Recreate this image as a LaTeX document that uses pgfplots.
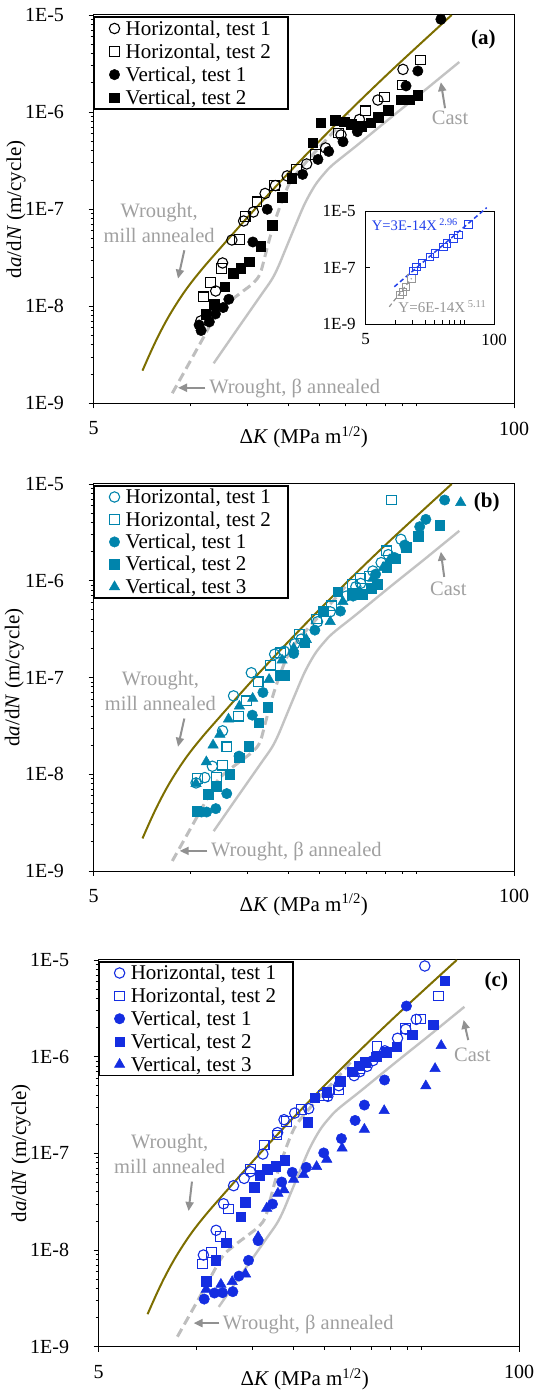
\documentclass[border=0pt]{standalone}
\usepackage{fontspec}
\setmainfont{Liberation Serif}
\usepackage{pgfplots}
\usepackage{pgfplotstable}
\pgfplotsset{compat=1.18}
\usetikzlibrary{arrows.meta}

\definecolor{olivec}{RGB}{125,110,0}
\definecolor{castc}{RGB}{195,195,195}
\definecolor{betac}{RGB}{190,190,190}
\definecolor{txtc}{RGB}{160,160,160}
\definecolor{arrc}{RGB}{145,145,145}
\definecolor{tealc}{RGB}{0,132,172}
\definecolor{bluec}{RGB}{20,45,225}
\definecolor{iblue}{RGB}{35,65,235}
\definecolor{igray}{RGB}{150,150,150}

\pgfplotstableread{
x y
7.088 2.17e-9
7.586 3.61e-9
8.072 5.53e-9
8.710 8.73e-9
9.632 1.46e-8
10.72 2.31e-8
12.19 3.79e-8
15.45 9.23e-8
19.55 2.15e-7
25.64 5.48e-7
32.48 1.20e-6
41.11 2.55e-6
52.04 5.28e-6
64.15 1.0e-5
}\olivetab
\pgfplotstableread{
x y
11.77 2.58e-9
13.72 5.40e-9
16.38 1.26e-8
17.80 1.88e-8
18.65 2.55e-8
19.55 3.72e-8
20.99 6.59e-8
22.53 1.14e-7
24.18 1.74e-7
25.77 2.29e-7
27.54 2.88e-7
32.48 4.47e-7
41.11 8.51e-7
52.04 1.60e-6
58.60 2.21e-6
67.74 3.28e-6
}\casttab
\pgfplotstableread{
x y
8.765 1.27e-9
9.703 2.32e-9
10.84 4.50e-9
12.05 8.45e-9
13.09 1.10e-8
14.39 1.40e-8
15.63 1.74e-8
16.38 2.16e-8
16.98 3.31e-8
17.58 5.13e-8
18.22 7.59e-8
18.87 1.06e-7
19.55 1.45e-7
20.50 2.00e-7
22.53 2.95e-7
25.04 4.37e-7
27.86 6.46e-7
30.77 9.55e-7
}\betatab

\begin{document}
\begin{tikzpicture}
\path[use as bounding box] (0pt,0pt) rectangle (533pt,1396pt);

% ---------------- panel (a)
\begin{axis}[at={(93.5pt,992.7pt)}, anchor=south west,
    scale only axis, width=420.5pt, height=388.3pt,
    xmode=log, ymode=log, xmin=5, xmax=100, ymin=1e-9, ymax=1e-5,
    xtick={5,100}, xticklabels={5,100},
    minor xtick={10,15,20,25,30,35,40,45,50},
    ytick={1e-9,1e-8,1e-7,1e-6,1e-5},
    yticklabels={1E-9,1E-8,1E-7,1E-6,1E-5},
    minor ytick={2e-9,3e-9,4e-9,5e-9,6e-9,7e-9,8e-9,9e-9,2e-8,3e-8,4e-8,5e-8,6e-8,7e-8,8e-8,9e-8,2e-7,3e-7,4e-7,5e-7,6e-7,7e-7,8e-7,9e-7,2e-6,3e-6,4e-6,5e-6,6e-6,7e-6,8e-6,9e-6},
    tick pos=left, tick align=outside,
    major tick length=5pt, minor tick length=3pt,
    tick style={black, line width=0.8pt},
    axis line style={black, line width=1pt},
    tick label style={font=\fontsize{20}{20}\selectfont},
    xticklabel style={yshift=-10pt},
    yticklabel style={xshift=-21pt},
    clip=false,
    legend cell align=left,
    legend style={at={(0,0.997)}, anchor=north west, draw=black, line width=1.6pt,
      font=\fontsize{21}{21}\selectfont, inner xsep=15pt, inner ysep=1.5pt, row sep=3pt,
      /tikz/every odd column/.append style={column sep=4pt}},
    xlabel={Δ\textit{K} (MPa m\textsuperscript{1/2})},
    ylabel={d\textit{a}/d\textit{N} (m/cycle)},
    label style={font=\fontsize{21}{21}\selectfont},
    xlabel style={at={(axis description cs:0.5,-0.088)}, anchor=center},
    ylabel style={at={(axis description cs:-0.184,0.5)}, anchor=center}]
\addplot[color=betac, line width=3pt, dash pattern=on 9pt off 5pt, smooth, tension=0.55, forget plot] table {\betatab};
\addplot[color=castc, line width=2.4pt, smooth, tension=0.55, forget plot] table {\casttab};
\addplot[color=olivec, line width=2pt, smooth, tension=0.6, forget plot] table {\olivetab};
\addplot[only marks, mark=o, mark size=5.2pt, color=black, mark options={line width=1.1pt}] coordinates {(10.74,7.05e-9) (11.94,1.435e-8) (12.54,2.79e-8) (13.40,4.81e-8) (14.57,7.55e-8) (15.61,9.35e-8) (16.98,1.45e-7) (18.27,1.75e-7) (19.87,2.20e-7) (22.83,2.92e-7) (26.13,4.27e-7) (29.16,5.81e-7) (33.25,8.39e-7) (37.92,1.33e-6) (45.35,2.75e-6)};
\addlegendentry{Horizontal, test 1}
\addplot[only marks, mark=square, mark size=4.8pt, color=black, mark options={line width=1.1pt}] coordinates {(10.95,1.25e-8) (11.52,1.75e-8) (12.45,2.46e-8) (14.17,4.89e-8) (14.73,8.40e-8) (16.03,1.19e-7) (18.14,1.75e-7) (21.22,2.56e-7) (24.29,3.66e-7) (28.63,6.08e-7) (34.74,1.03e-6) (39.76,1.43e-6) (45.01,1.90e-6) (51.31,3.44e-6)};
\addlegendentry{Horizontal, test 2}
\addplot[only marks, mark=*, mark size=5.2pt, color=black, mark options={line width=0.5pt}] coordinates {(10.61,6.41e-9) (10.76,5.62e-9) (11.41,6.89e-9) (11.92,8.32e-9) (12.60,9.70e-9) (13.11,1.18e-8) (15.56,4.59e-8) (17.24,9.97e-8) (22.18,2.28e-7) (24.74,3.25e-7) (26.71,3.93e-7) (29.58,4.95e-7) (32.76,6.28e-7) (46.34,1.86e-6) (50.40,2.65e-6) (59.40,9.03e-6)};
\addlegendentry{Vertical, test 1}
\addplot[only marks, mark=square*, mark size=4.8pt, color=black, mark options={line width=0.5pt}] coordinates {(11.12,8.32e-9) (11.82,1.05e-8) (12.73,1.59e-8) (13.52,2.18e-8) (14.29,2.46e-8) (15.17,2.86e-8) (16.44,4.17e-8) (17.87,6.87e-8) (19.16,1.32e-7) (20.50,2.09e-7) (23.85,4.84e-7) (25.24,7.78e-7) (28.00,8.28e-7) (29.80,7.96e-7) (31.36,7.54e-7) (33.74,7.19e-7) (36.02,7.78e-7) (38.04,8.89e-7) (40.78,1.05e-6) (44.68,1.34e-6) (47.37,1.34e-6) (50.40,1.49e-6)};
\addlegendentry{Vertical, test 2}
\node[text=txtc, font=\fontsize{20.5}{25}\selectfont, align=center] at (rel axis cs:0.156,0.465) {Wrought,\\mill annealed};
\draw[draw=arrc, line width=2pt, -{Triangle[length=9pt,width=8pt]}] (rel axis cs:0.216,0.394) -- (rel axis cs:0.201,0.321);
\node[text=txtc, font=\fontsize{20.5}{20.5}\selectfont] at (rel axis cs:0.848,0.734) {Cast};
\draw[draw=arrc, line width=2pt, -{Triangle[length=9pt,width=8pt]}] (rel axis cs:0.836,0.760) -- (rel axis cs:0.826,0.827);
\node[text=txtc, font=\fontsize{20.5}{20.5}\selectfont, anchor=west, inner sep=0pt] at (rel axis cs:0.275,0.038) {Wrought, β annealed};
\draw[draw=arrc, line width=2pt, -{Triangle[length=9pt,width=8pt]}] (rel axis cs:0.266,0.040) -- (rel axis cs:0.201,0.040);
\node[font=\bfseries\fontsize{21}{21}\selectfont] at (rel axis cs:0.927,0.937) {(a)};
\end{axis}

% ---------------- inset
\begin{axis}[at={(365.7pt,1071.7pt)}, anchor=south west,
  scale only axis, width=128.3pt, height=113.3pt,
  xmode=log, ymode=log, xmin=5, xmax=100, ymin=1e-9, ymax=1e-5,
  xtick={5,100}, xticklabels={5,100},
  minor xtick={10,15,20,25,30,35,40,45,50},
  ytick={1e-9,1e-7,1e-5}, yticklabels={1E-9,1E-7,1E-5},
  minor ytick={1e-12},
  tick pos=left, tick align=inside, major tick length=4pt, minor tick length=4pt,
  tick style={black, line width=0.6pt}, axis line style={black, line width=0.8pt},
  tick label style={font=\fontsize{17}{17}\selectfont},
  yticklabel style={xshift=-6.5pt}, xticklabel style={yshift=-6pt},
  axis background/.style={fill=white}, clip=false]
\addplot[color=igray, line width=1.2pt, dash pattern=on 4pt off 3pt] coordinates {(8.67,4.15e-9) (14.6,4.19e-8)};
\addplot[color=iblue, line width=1.5pt, dash pattern=on 4.5pt off 3pt] coordinates {(9.75,2.11e-8) (84.4,1.31e-5)};
\addplot[only marks, mark=square, mark size=3.7pt, color=igray, mark options={line width=0.8pt}] coordinates {(11.1,1.08e-8) (11.9,1.41e-8) (12.8,2.11e-8) (14.6,4.19e-8)};
\addplot[only marks, mark=square, mark size=3.7pt, color=iblue, mark options={line width=0.8pt}] coordinates {(15.2,7.59e-8) (16.4,1.08e-7) (18.5,1.42e-7) (22.4,2.43e-7) (25.2,3.20e-7) (30.6,5.48e-7) (33.1,7.22e-7) (38.7,1.08e-6) (43.4,1.42e-6) (54.9,3.39e-6)};
\node[anchor=west, text=iblue, font=\fontsize{14.6}{14.6}\selectfont, inner sep=0pt] at (rel axis cs:0.047,0.876) {Y=3E-14X\,\textsuperscript{2.96}};
\node[anchor=west, text=igray, font=\fontsize{15}{15}\selectfont, inner sep=0pt] at (rel axis cs:0.254,0.155) {Y=6E-14X\,\textsuperscript{5.11}};
\end{axis}

% ---------------- panel (b)
\begin{axis}[at={(93.5pt,525pt)}, anchor=south west,
    scale only axis, width=420.5pt, height=387pt,
    xmode=log, ymode=log, xmin=5, xmax=100, ymin=1e-9, ymax=1e-5,
    xtick={5,100}, xticklabels={5,100},
    minor xtick={10,15,20,25,30,35,40,45,50},
    ytick={1e-9,1e-8,1e-7,1e-6,1e-5},
    yticklabels={1E-9,1E-8,1E-7,1E-6,1E-5},
    minor ytick={2e-9,3e-9,4e-9,5e-9,6e-9,7e-9,8e-9,9e-9,2e-8,3e-8,4e-8,5e-8,6e-8,7e-8,8e-8,9e-8,2e-7,3e-7,4e-7,5e-7,6e-7,7e-7,8e-7,9e-7,2e-6,3e-6,4e-6,5e-6,6e-6,7e-6,8e-6,9e-6},
    tick pos=left, tick align=outside,
    major tick length=5pt, minor tick length=3pt,
    tick style={black, line width=0.8pt},
    axis line style={black, line width=1pt},
    tick label style={font=\fontsize{20}{20}\selectfont},
    xticklabel style={yshift=-10pt},
    yticklabel style={xshift=-21pt},
    clip=false,
    legend cell align=left,
    legend style={at={(0,0.997)}, anchor=north west, draw=black, line width=1.6pt,
      font=\fontsize{21}{21}\selectfont, inner xsep=15pt, inner ysep=1pt, row sep=2.4pt,
      /tikz/every odd column/.append style={column sep=4pt}},
    xlabel={Δ\textit{K} (MPa m\textsuperscript{1/2})},
    ylabel={d\textit{a}/d\textit{N} (m/cycle)},
    label style={font=\fontsize{21}{21}\selectfont},
    xlabel style={at={(axis description cs:0.5,-0.088)}, anchor=center},
    ylabel style={at={(axis description cs:-0.188,0.5)}, anchor=center}]
\addplot[color=betac, line width=3pt, dash pattern=on 9pt off 5pt, smooth, tension=0.55, forget plot] table {\betatab};
\addplot[color=castc, line width=2.4pt, smooth, tension=0.55, forget plot] table {\casttab};
\addplot[color=olivec, line width=2pt, smooth, tension=0.6, forget plot] table {\olivetab};
\addplot[only marks, mark=o, mark size=5.2pt, color=tealc, mark options={line width=1.1pt}] coordinates {(10.38,8.13e-9) (11.05,9.24e-9) (11.66,1.21e-8) (12.54,2.81e-8) (13.56,6.46e-8) (15.39,1.12e-7) (18.17,1.74e-7) (19.44,1.87e-7) (20.97,2.23e-7) (21.95,2.49e-7) (24.67,3.77e-7) (27.00,4.78e-7) (30.27,6.94e-7) (32.41,8.67e-7) (33.53,9.38e-7) (36.59,1.26e-6) (38.81,1.54e-6) (40.84,1.86e-6) (44.68,2.68e-6)};
\addlegendentry{Horizontal, test 1}
\addplot[only marks, mark=square, mark size=4.8pt, color=tealc, mark options={line width=1.1pt}] coordinates {(10.50,9.02e-9) (12.00,9.38e-9) (12.54,1.24e-8) (12.92,1.92e-8) (14.07,3.98e-8) (14.87,5.74e-8) (16.16,9.02e-8) (17.64,1.34e-7) (18.98,1.80e-7) (21.64,2.81e-7) (24.50,4.01e-7) (27.20,5.51e-7) (31.62,9.24e-7) (33.45,1.06e-6) (35.72,1.12e-6) (40.35,2.04e-6) (41.84,6.83e-6)};
\addlegendentry{Horizontal, test 2}
\addplot[only marks, mark=*, mark size=5.2pt, color=tealc, mark options={line width=0.5pt}] coordinates {(10.79,4.07e-9) (11.19,4.07e-9) (11.95,4.41e-9) (12.92,6.31e-9) (14.10,1.54e-8) (15.50,4.08e-8) (16.72,7.00e-8) (20.81,1.77e-7) (24.20,3.09e-7) (29.04,4.86e-7) (31.78,6.94e-7) (37.32,1.17e-6) (42.67,1.74e-6) (45.90,2.34e-6) (51.08,3.62e-6) (53.36,4.31e-6) (61.01,6.83e-6)};
\addlegendentry{Vertical, test 1}
\addplot[only marks, mark=square*, mark size=4.8pt, color=tealc, mark options={line width=0.5pt}] coordinates {(10.43,4.14e-9) (11.30,6.21e-9) (12.00,7.40e-9) (13.20,1.00e-8) (14.10,1.48e-8) (15.13,1.95e-8) (16.24,3.40e-8) (17.30,4.90e-8) (18.92,1.05e-7) (19.44,1.05e-7) (22.50,2.29e-7) (25.72,4.86e-7) (28.48,7.69e-7) (31.62,7.28e-7) (34.02,7.28e-7) (36.16,8.33e-7) (37.68,9.24e-7) (40.35,1.37e-6) (42.87,1.69e-6) (46.46,2.21e-6) (50.46,2.90e-6) (58.97,3.77e-6)};
\addlegendentry{Vertical, test 2}
\addplot[only marks, mark=triangle*, mark size=6pt, color=tealc, mark options={line width=0.5pt}] coordinates {(10.38,8.00e-9) (11.17,1.34e-8) (11.72,2.00e-8) (12.30,2.59e-8) (13.08,3.71e-8) (14.14,5.05e-8) (15.54,6.07e-8) (17.47,9.53e-8) (19.16,1.51e-7) (20.81,2.00e-7) (22.77,2.47e-7) (27.00,3.77e-7) (29.54,6.07e-7) (33.21,7.69e-7) (36.59,1.06e-6) (39.37,1.37e-6) (41.14,1.64e-6) (46.34,2.28e-6) (68.40,6.41e-6)};
\addlegendentry{Vertical, test 3}
\node[text=txtc, font=\fontsize{20.5}{25}\selectfont, align=center] at (rel axis cs:0.159,0.465) {Wrought,\\mill annealed};
\draw[draw=arrc, line width=2pt, -{Triangle[length=9pt,width=8pt]}] (rel axis cs:0.216,0.394) -- (rel axis cs:0.201,0.321);
\node[text=txtc, font=\fontsize{20.5}{20.5}\selectfont] at (rel axis cs:0.844,0.730) {Cast};
\draw[draw=arrc, line width=2pt, -{Triangle[length=9pt,width=8pt]}] (rel axis cs:0.834,0.760) -- (rel axis cs:0.826,0.825);
\node[text=txtc, font=\fontsize{20.5}{20.5}\selectfont, anchor=west, inner sep=0pt] at (rel axis cs:0.279,0.050) {Wrought, β annealed};
\draw[draw=arrc, line width=2pt, -{Triangle[length=9pt,width=8pt]}] (rel axis cs:0.271,0.052) -- (rel axis cs:0.205,0.052);
\node[font=\bfseries\fontsize{21}{21}\selectfont] at (rel axis cs:0.935,0.952) {(b)};
\end{axis}

% ---------------- panel (c)
\begin{axis}[at={(98.6pt,49.3pt)}, anchor=south west,
    scale only axis, width=420.5pt, height=386.7pt,
    xmode=log, ymode=log, xmin=5, xmax=100, ymin=1e-9, ymax=1e-5,
    xtick={5,100}, xticklabels={5,100},
    minor xtick={10,15,20,25,30,35,40,45,50},
    ytick={1e-9,1e-8,1e-7,1e-6,1e-5},
    yticklabels={1E-9,1E-8,1E-7,1E-6,1E-5},
    minor ytick={2e-9,3e-9,4e-9,5e-9,6e-9,7e-9,8e-9,9e-9,2e-8,3e-8,4e-8,5e-8,6e-8,7e-8,8e-8,9e-8,2e-7,3e-7,4e-7,5e-7,6e-7,7e-7,8e-7,9e-7,2e-6,3e-6,4e-6,5e-6,6e-6,7e-6,8e-6,9e-6},
    tick pos=left, tick align=outside,
    major tick length=5pt, minor tick length=3pt,
    tick style={black, line width=0.8pt},
    axis line style={black, line width=1pt},
    tick label style={font=\fontsize{20}{20}\selectfont},
    xticklabel style={yshift=-10pt},
    yticklabel style={xshift=-21pt},
    clip=false,
    legend cell align=left,
    legend style={at={(0,0.997)}, anchor=north west, draw=black, line width=1.6pt,
      font=\fontsize{21}{21}\selectfont, inner xsep=15pt, inner ysep=1pt, row sep=2.8pt,
      /tikz/every odd column/.append style={column sep=4pt}},
    xlabel={Δ\textit{K} (MPa m\textsuperscript{1/2})},
    ylabel={d\textit{a}/d\textit{N} (m/cycle)},
    label style={font=\fontsize{21}{21}\selectfont},
    xlabel style={at={(axis description cs:0.49,-0.085)}, anchor=center},
    ylabel style={at={(axis description cs:-0.184,0.5)}, anchor=center}]
\addplot[color=betac, line width=3pt, dash pattern=on 9pt off 5pt, smooth, tension=0.55, forget plot] table {\betatab};
\addplot[color=castc, line width=2.4pt, smooth, tension=0.55, forget plot] table {\casttab};
\addplot[color=olivec, line width=2pt, smooth, tension=0.6, forget plot] table {\olivetab};
\addplot[only marks, mark=o, mark size=5.2pt, color=bluec, mark options={line width=1.1pt}] coordinates {(10.55,8.88e-9) (11.55,1.60e-8) (12.18,3.01e-8) (13.08,4.63e-8) (14.10,5.51e-8) (14.73,6.46e-8) (16.12,9.84e-8) (17.90,1.64e-7) (18.74,2.23e-7) (20.22,2.61e-7) (22.33,2.90e-7) (25.59,3.89e-7) (27.67,5.01e-7) (30.87,6.36e-7) (32.17,7.00e-7) (33.86,7.94e-7) (35.31,9.10e-7) (38.43,1.15e-6) (42.06,1.55e-6) (44.58,1.92e-6) (48.07,2.43e-6) (51.08,8.67e-6)};
\addlegendentry{Horizontal, test 1}
\addplot[only marks, mark=square, mark size=4.8pt, color=bluec, mark options={line width=1.1pt}] coordinates {(10.50,7.16e-9) (11.17,9.46e-9) (11.92,1.38e-8) (12.61,2.65e-8) (14.73,6.89e-8) (16.27,1.22e-7) (17.81,1.55e-7) (19.07,2.13e-7) (21.17,2.85e-7) (24.80,3.95e-7) (27.67,4.52e-7) (32.17,7.45e-7) (36.33,1.27e-6) (44.47,1.96e-6) (49.61,2.45e-6) (56.31,4.25e-6)};
\addlegendentry{Horizontal, test 2}
\addplot[only marks, mark=*, mark size=5.2pt, color=bluec, mark options={line width=0.5pt}] coordinates {(10.61,3.11e-9) (11.41,3.59e-9) (12.09,3.62e-9) (13.01,3.71e-9) (13.59,5.38e-9) (14.55,7.82e-9) (15.58,1.25e-8) (17.26,2.99e-8) (18.43,5.05e-8) (19.87,6.36e-8) (21.95,7.16e-8) (24.86,1.01e-7) (28.20,1.42e-7) (31.09,2.19e-7) (33.21,3.16e-7) (38.34,5.74e-7) (44.81,3.34e-6)};
\addlegendentry{Vertical, test 1}
\addplot[only marks, mark=square*, mark size=4.8pt, color=bluec, mark options={line width=0.5pt}] coordinates {(10.76,4.74e-9) (11.52,7.88e-9) (12.39,1.19e-8) (13.76,2.21e-8) (14.24,3.14e-8) (15.13,4.45e-8) (15.77,5.92e-8) (16.63,6.82e-8) (17.68,7.40e-8) (18.84,8.47e-8) (22.18,2.09e-7) (23.33,3.77e-7) (25.41,4.28e-7) (28.00,5.56e-7) (30.49,7.00e-7) (32.01,8.07e-7) (33.45,8.74e-7) (36.16,1.00e-6) (38.90,1.11e-6) (41.84,1.27e-6) (46.69,1.68e-6) (54.14,2.13e-6) (58.82,6.11e-6)};
\addlegendentry{Vertical, test 2}
\addplot[only marks, mark=triangle*, mark size=6pt, color=bluec, mark options={line width=0.5pt}] coordinates {(10.76,3.92e-9) (11.95,4.41e-9) (12.95,4.70e-9) (14.24,5.65e-9) (15.58,1.37e-8) (16.56,2.70e-8) (17.94,3.86e-8) (18.74,4.18e-8) (20.06,5.38e-8) (21.53,6.01e-8) (23.63,7.28e-8) (25.41,8.67e-8) (28.34,1.13e-7) (33.21,1.77e-7) (38.24,2.76e-7) (51.45,4.98e-7) (54.95,7.52e-7) (57.41,1.30e-6)};
\addlegendentry{Vertical, test 3}
\node[text=txtc, font=\fontsize{20.5}{25}\selectfont, align=center] at (rel axis cs:0.169,0.499) {Wrought,\\mill annealed};
\draw[draw=arrc, line width=2pt, -{Triangle[length=9pt,width=8pt]}] (rel axis cs:0.222,0.427) -- (rel axis cs:0.214,0.351);
\node[text=txtc, font=\fontsize{20.5}{20.5}\selectfont] at (rel axis cs:0.889,0.755) {Cast};
\draw[draw=arrc, line width=2pt, -{Triangle[length=9pt,width=8pt]}] (rel axis cs:0.879,0.793) -- (rel axis cs:0.868,0.845);
\node[text=txtc, font=\fontsize{20.5}{20.5}\selectfont, anchor=west, inner sep=0pt] at (rel axis cs:0.295,0.057) {Wrought, β annealed};
\draw[draw=arrc, line width=2pt, -{Triangle[length=9pt,width=8pt]}] (rel axis cs:0.287,0.061) -- (rel axis cs:0.226,0.061);
\node[font=\bfseries\fontsize{21}{21}\selectfont] at (rel axis cs:0.946,0.945) {(c)};
\end{axis}
\end{tikzpicture}
\end{document}
